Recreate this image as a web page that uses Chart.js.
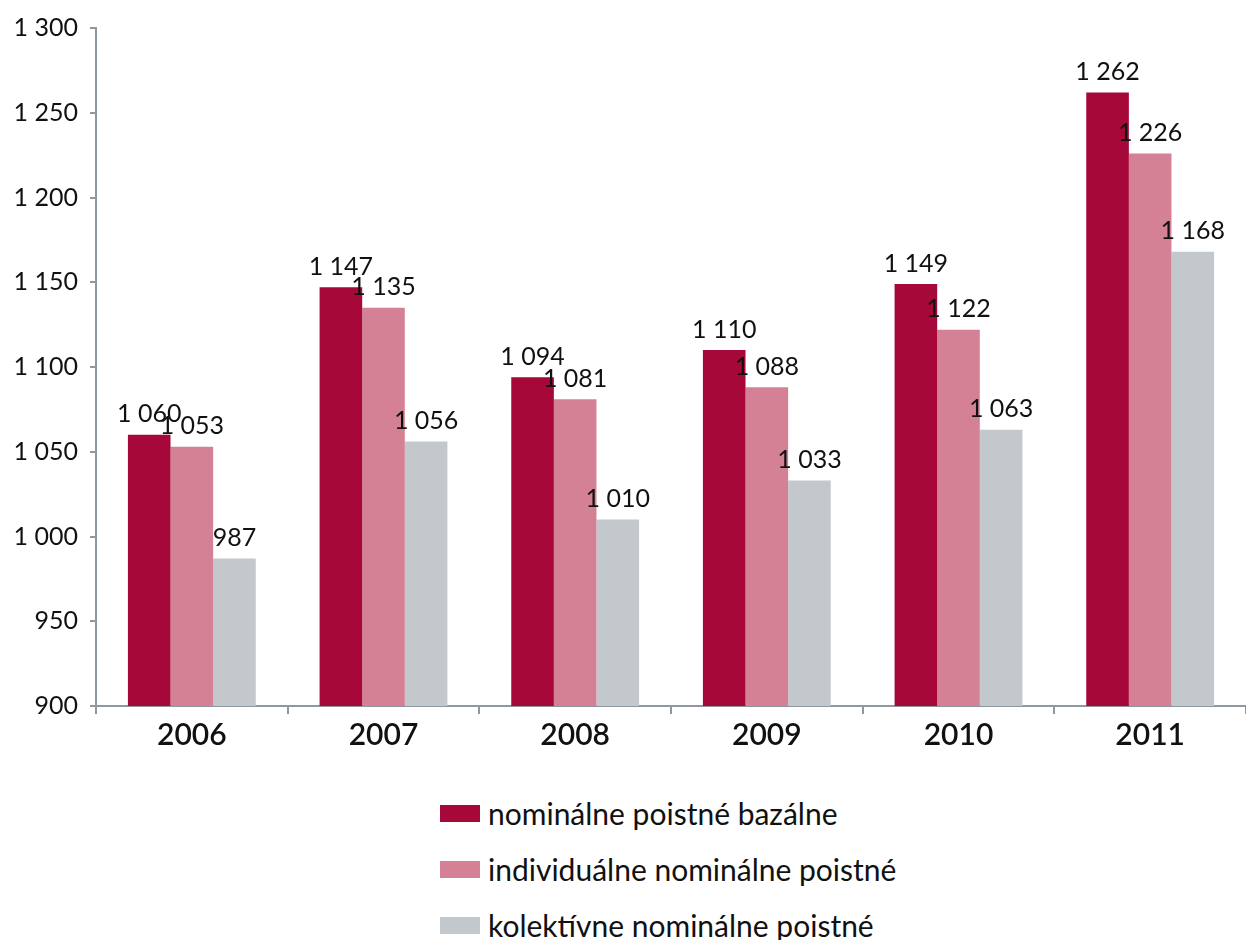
<!DOCTYPE html>
<html>
<head>
<meta charset="utf-8">
<script src="https://cdn.jsdelivr.net/npm/chart.js@4.4.1/dist/chart.umd.min.js"></script>
<style>
  html, body { margin: 0; padding: 0; background: #fff; }
  #wrap { position: relative; width: 1246px; height: 940px; overflow: hidden; }
  #box { position: absolute; left: 0; top: 0; width: 1246px; height: 775px; }
  #legend { position: absolute; left: 440px; top: 785px; font-family: Lato, sans-serif; font-size: 30px; color: #111; }
  #legend .item { display: flex; align-items: center; height: 56px; }
  #legend .swatch { width: 40px; height: 17px; margin-right: 8px; }
</style>
</head>
<body>
<div id="wrap">
  <div id="box"><canvas id="chart"></canvas></div>
  <div id="legend"></div>
</div>
<script>
// categories and values
const years = ['2006', '2007', '2008', '2009', '2010', '2011'];
const bazalne = [1060, 1147, 1094, 1110, 1149, 1262];
const individualne = [1053, 1135, 1081, 1088, 1122, 1226];
const kolektivne = [987, 1056, 1010, 1033, 1063, 1168];
const seriesNames = ['nominálne poistné bazálne', 'individuálne nominálne poistné', 'kolektívne nominálne poistné'];
const colors = ['#a6083a', '#d48196', '#c3c8cc'];

const fmtNum = (v) => String(v).replace(/\B(?=(\d{3})+(?!\d))/g, ' ');
const FONT = 'Lato, sans-serif';
const axisColor = '#8f989e';

// draws the value above each bar
const barValues = {
  id: 'barValues',
  afterDatasetsDraw(chart) {
    const { ctx } = chart;
    ctx.save();
    ctx.font = '25px ' + FONT;
    ctx.fillStyle = '#111';
    ctx.textAlign = 'center';
    ctx.textBaseline = 'bottom';
    chart.data.datasets.forEach((ds, i) => {
      chart.getDatasetMeta(i).data.forEach((bar, j) => {
        ctx.fillText(fmtNum(ds.data[j]), bar.x, bar.y - 8);
      });
    });
    ctx.restore();
  }
};

const chart = new Chart(document.getElementById('chart'), {
  type: 'bar',
  data: {
    labels: years,
    datasets: [bazalne, individualne, kolektivne].map((d, i) => ({
      label: seriesNames[i],
      data: d,
      backgroundColor: colors[i],
      borderWidth: 0,
      categoryPercentage: 0.667,
      barPercentage: 1.0
    }))
  },
  options: {
    responsive: true,
    maintainAspectRatio: false,
    animation: false,
    layout: { padding: { top: 28, right: 0, left: 0, bottom: 0 } },
    scales: {
      y: {
        min: 900,
        max: 1300,
        ticks: {
          stepSize: 50,
          color: '#111',
          font: { family: FONT, size: 25 },
          padding: 12,
          callback: (v) => fmtNum(v)
        },
        grid: { drawOnChartArea: false, tickLength: 6, color: axisColor, lineWidth: 2 },
        border: { color: axisColor, width: 2 },
        afterFit: (s) => { s.width = 96; }
      },
      x: {
        ticks: {
          color: '#111',
          font: { family: FONT, size: 30, weight: '600' },
          padding: 3
        },
        grid: { offset: true, drawOnChartArea: false, tickLength: 8, color: axisColor, lineWidth: 2 },
        border: { color: axisColor, width: 2 },
        afterFit: (s) => { s.height = 69; }
      }
    },
    plugins: {
      legend: { display: false },
      tooltip: { enabled: false }
    }
  },
  plugins: [barValues]
});

// legend as a vertical list below the chart
const legendEl = document.getElementById('legend');
chart.data.datasets.forEach((ds) => {
  const row = document.createElement('div');
  row.className = 'item';
  const sw = document.createElement('span');
  sw.className = 'swatch';
  sw.style.background = ds.backgroundColor;
  const txt = document.createElement('span');
  txt.textContent = ds.label;
  row.appendChild(sw);
  row.appendChild(txt);
  legendEl.appendChild(row);
});
</script>
</body>
</html>
